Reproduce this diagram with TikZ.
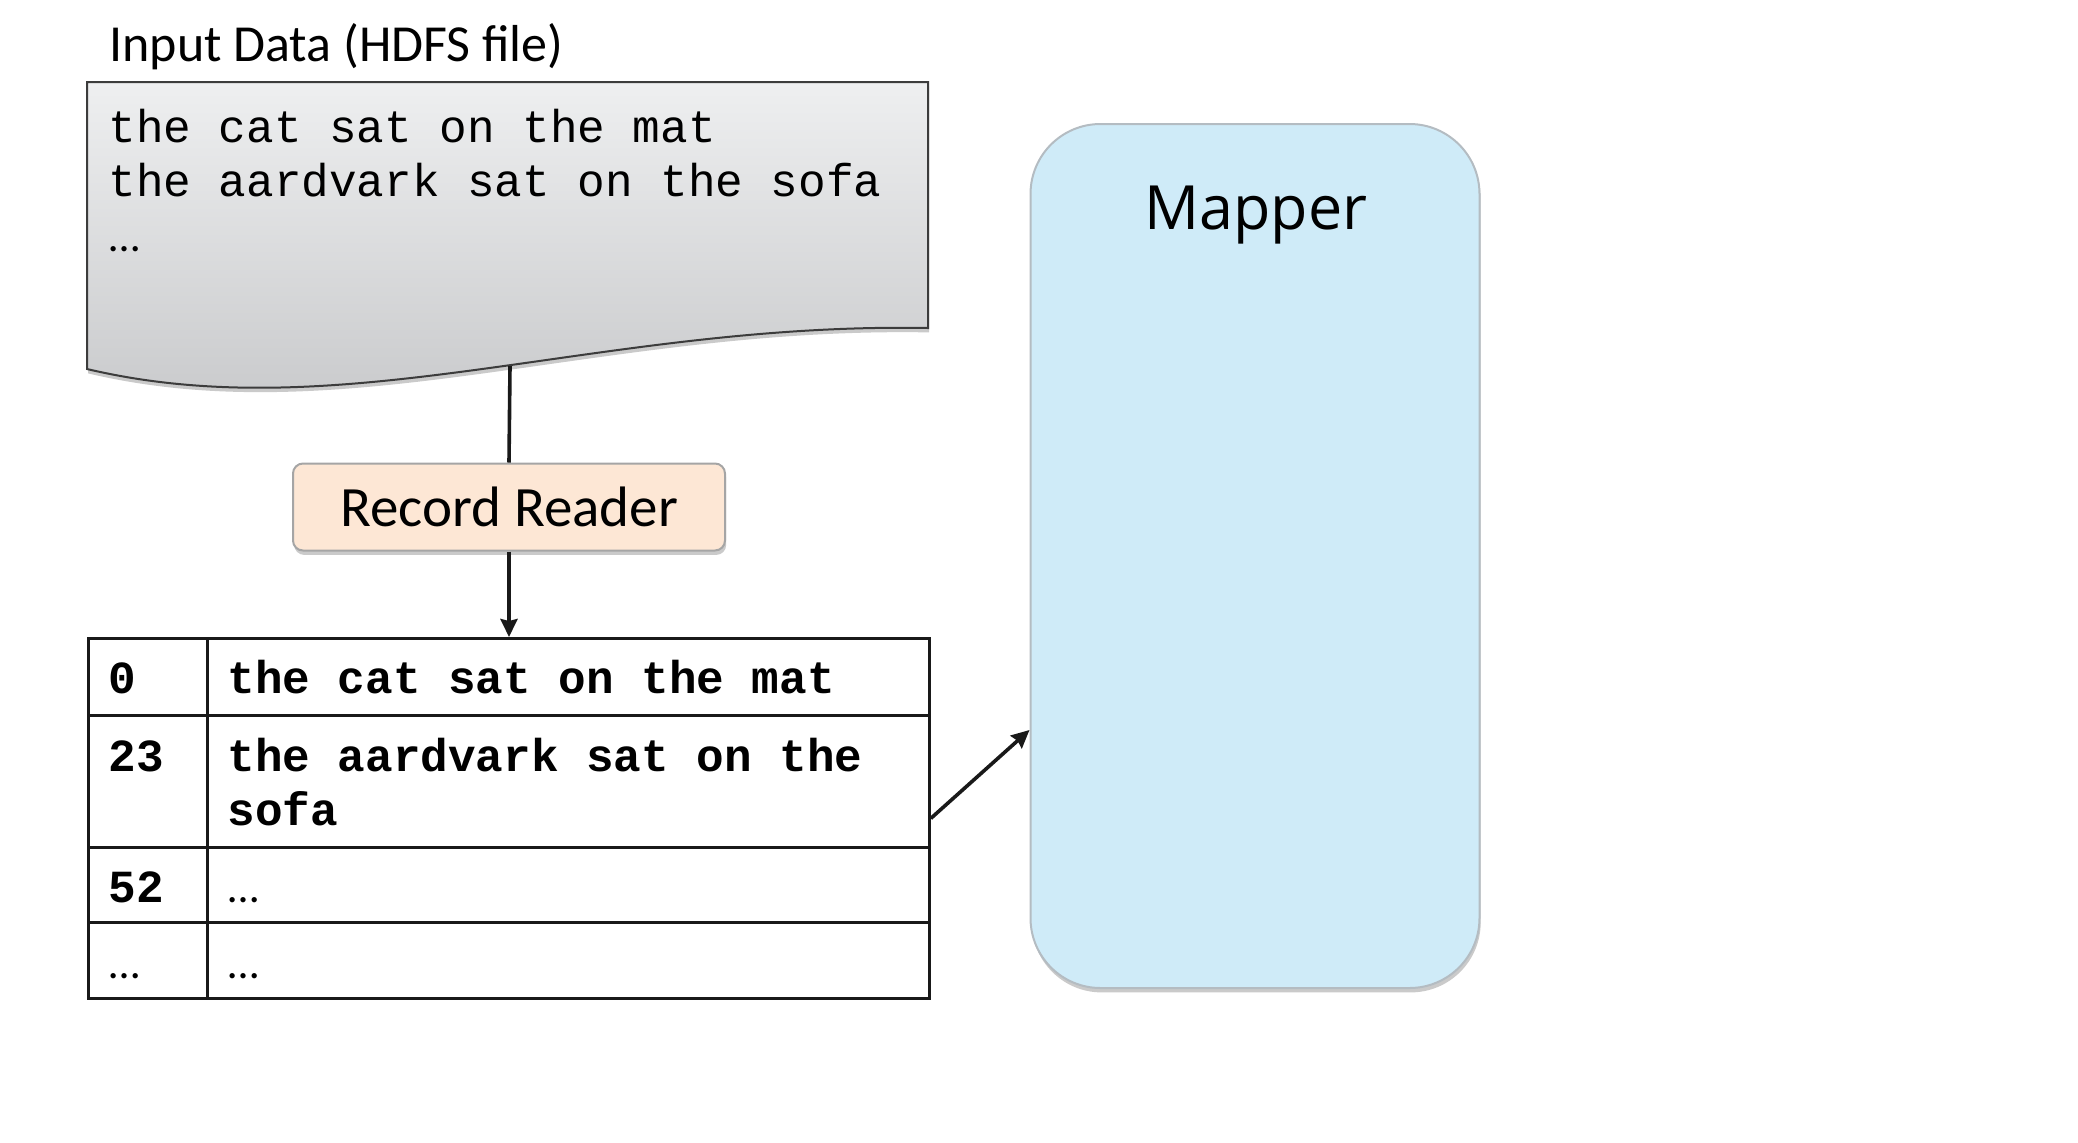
\documentclass[tikz,border=0pt]{standalone}
\usepackage{fontspec}
\setmainfont{Carlito}
\newfontfamily\monofont{Liberation Mono}
\newfontfamily\mapfont{Open Sans}
\usetikzlibrary{shadows,arrows.meta,calc}
\definecolor{docTop}{HTML}{EEEFF0}
\definecolor{docBot}{HTML}{C6C7C9}
\definecolor{docLine}{HTML}{3C3C3C}
\definecolor{rrFill}{HTML}{FDE7D5}
\definecolor{rrLine}{HTML}{A5A5A5}
\definecolor{mapFill}{HTML}{CFEBF8}
\definecolor{mapLine}{HTML}{B4BCC2}
\begin{document}
\begin{tikzpicture}[x=0.5pt,y=-0.5pt,
  softshadow/.style={drop shadow={shadow xshift=0.6pt,shadow yshift=-2.2pt,opacity=0.35,fill=black!60}},
  doctext/.style={anchor=base west,inner sep=0pt,font=\monofont\fontsize{23}{28}\selectfont},
  dotstext/.style={anchor=base west,inner sep=0pt,font=\fontsize{22}{26}\selectfont},
  tabtext/.style={anchor=base west,inner sep=0pt,font=\monofont\bfseries\fontsize{23}{28}\selectfont},
  cell/.style={draw=black!90,line width=1.4pt,anchor=north west,inner sep=0pt,rectangle},
  rrbox/.style={draw=rrLine,fill=rrFill,line width=1pt,rounded corners=5pt,softshadow,
    minimum width=216pt,minimum height=43.5pt,inner sep=0pt,font=\fontsize{28.5}{34}\selectfont},
  mapbox/.style={draw=mapLine,fill=mapFill,line width=1pt,rounded corners=35pt,softshadow,
    minimum width=224.5pt,minimum height=432pt,inner sep=0pt},
  conn/.style={draw=black!90,line width=1.8pt},
  arr/.style={conn,-{Stealth[length=9pt,width=8.5pt,inset=1pt]}}
]
\useasboundingbox (0,0) rectangle (2078,1142);

% title
\node[anchor=base west,inner sep=0pt,font=\fontsize{26}{30}\selectfont] (title) at (109,61) {Input Data (HDFS file)};

% document shape
\path[softshadow,top color=docTop,bottom color=docBot,draw=docLine,line width=1pt]
  (87,82) -- (928,82) -- (928,328) .. controls (600,322) and (345,430) .. (87,369) -- cycle;
\coordinate (docbot) at (510,366);
\node[doctext] (l1) at (108,142) {the cat sat on the mat};
\node[doctext] (l2) at (108,196) {the aardvark sat on the sofa};
\node[dotstext] (l3) at (109,251) {…};

% record reader
\node[rrbox] (rr) at (509,507) {Record Reader};

% mapper
\node[mapbox] (mapper) at (1255,556) {};
\node[anchor=base,inner sep=0pt,font=\mapfont\fontsize{30.5}{36}\selectfont] (maptitle) at (1256,229) {Mapper};

% table
\node[cell,minimum width=59.5pt,minimum height=38.5pt] (k1) at (87,637) {};
\node[cell,minimum width=361pt,minimum height=38.5pt] (v1) at (206,637) {};
\node[cell,minimum width=59.5pt,minimum height=66pt] (k2) at (87,714) {};
\node[cell,minimum width=361pt,minimum height=66pt] (v2) at (206,714) {};
\node[cell,minimum width=59.5pt,minimum height=37.5pt] (k3) at (87,846) {};
\node[cell,minimum width=361pt,minimum height=37.5pt] (v3) at (206,846) {};
\node[cell,minimum width=59.5pt,minimum height=38pt] (k4) at (87,921) {};
\node[cell,minimum width=361pt,minimum height=38pt] (v4) at (206,921) {};

\node[tabtext] (t1k) at (108,693) {0};
\node[tabtext] (t1v) at (227,693) {the cat sat on the mat};
\node[tabtext] (t2k) at (108,771) {23};
\node[tabtext] (t2v) at (227,771) {the aardvark sat on the};
\node[tabtext] (t2w) at (227,825) {sofa};
\node[tabtext] (t3k) at (108,902) {52};
\node[dotstext] (t3v) at (228,902) {…};
\node[dotstext] (t4k) at (109,978) {…};
\node[dotstext] (t4v) at (228,978) {…};

% connectors
\draw[conn] (docbot) -- (rr.north);
\draw[arr] (rr.south) -- (rr.south |- k1.north);
\coordinate (tabout) at ($(v2.east)+(0,37)$);
\coordinate (mapin) at ($(mapper.west)+(0,174)$);
\draw[arr] (tabout) -- (mapin);
\end{tikzpicture}
\end{document}
